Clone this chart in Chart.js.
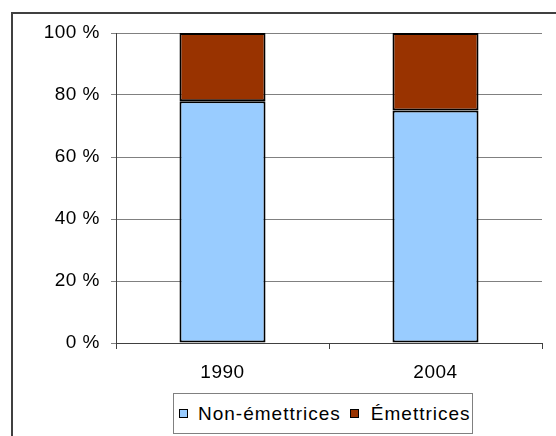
<!DOCTYPE html>
<html>
<head>
<meta charset="utf-8">
<script src="https://cdn.jsdelivr.net/npm/chart.js@4/dist/chart.umd.min.js"></script>
<style>
    body { margin: 0; background: #fff; font-family: "Liberation Sans", Arial, sans-serif; }
    #wrap { position: relative; width: 556px; height: 436px; overflow: hidden; }
    #frame { position: absolute; left: 11px; top: 12px; width: 600px; height: 500px; border: 2px solid #404040; }
    #chart { position: absolute; left: 0; top: 0; }
    #legend {
        position: absolute; left: 173px; top: 393px; width: 298px; height: 39px;
        border: 1px solid #808080; background: #fff;
        display: flex; align-items: center; font-size: 19px; letter-spacing: 1px; color: #000;
    }
    .item { display: flex; align-items: center; }
    .swatch { width: 7px; height: 7px; border: 1px solid #000; margin-left: 5px; margin-right: 10px; }
    .item + .item .swatch { margin-left: 9px; margin-right: 12px; }
</style>
</head>
<body>
<div id="wrap">
    <div id="frame"></div>
    <canvas id="chart" width="556" height="436"></canvas>
    <div id="legend"></div>
</div>
<script>
const years = ["1990", "2004"];
const nonEmettrices = [78, 75];
const emettrices = [22, 25];
const seriesNames = ["Non-émettrices", "Émettrices"];
const seriesColors = ["#99CCFF", "#993300"];

const legendBox = document.getElementById("legend");
legendBox.innerHTML = seriesNames.map((name, i) =>
    `<div class="item"><span class="swatch" style="background:${seriesColors[i]}"></span>${name}</div>`
).join('');

// texte un peu plus large, comme dans l'original
const spacing = {
    id: "spacing",
    beforeInit: chart => { chart.ctx.letterSpacing = "0.5px"; },
    beforeDraw: chart => { chart.ctx.letterSpacing = "0.5px"; }
};

const ctx = document.getElementById("chart");
new Chart(ctx, {
    type: "bar",
    data: {
        labels: years,
        datasets: [
            { label: seriesNames[0], data: nonEmettrices, backgroundColor: seriesColors[0] },
            { label: seriesNames[1], data: emettrices, backgroundColor: seriesColors[1] }
        ].map(d => ({ ...d, borderColor: "#000", borderWidth: 2, borderSkipped: false,
                      categoryPercentage: 1, barPercentage: 0.404 }))
    },
    plugins: [spacing],
    options: {
        responsive: false,
        animation: false,
        devicePixelRatio: 1,
        layout: { padding: { left: 0, right: 14, top: 33, bottom: 0 } },
        plugins: { legend: { display: false }, tooltip: { enabled: false } },
        scales: {
            x: {
                stacked: true,
                offset: true,
                grid: { offset: true, drawOnChartArea: false, tickLength: 6, color: "#404040" },
                border: { color: "#404040", width: 1 },
                ticks: { color: "#000", padding: 12, font: { size: 19, family: "Liberation Sans" } },
                afterFit: s => { s.height = 93; }
            },
            y: {
                stacked: true,
                min: 0, max: 100,
                grid: { color: "#808080", tickLength: 5 },
                border: { color: "#404040", width: 1 },
                ticks: { stepSize: 20, color: "#000", padding: 11,
                         font: { size: 19, family: "Liberation Sans" },
                         callback: v => v + " %" },
                afterFit: s => { s.width = 116; }
            }
        }
    }
});
</script>
</body>
</html>
